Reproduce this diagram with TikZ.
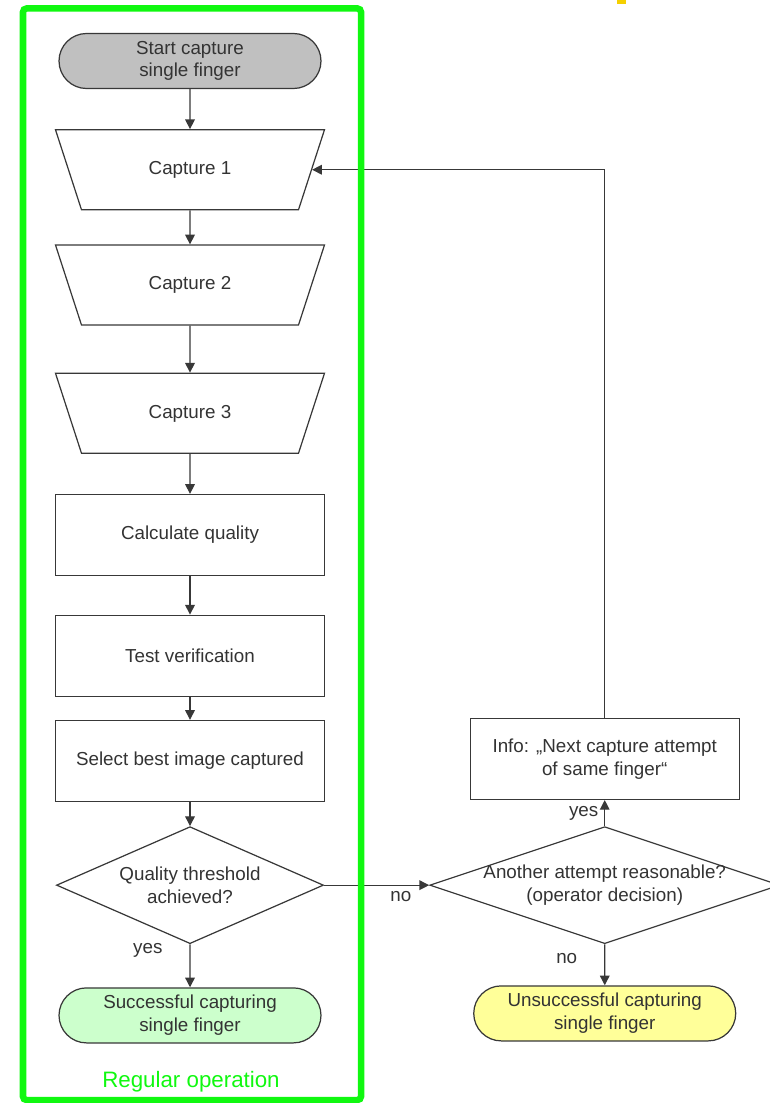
\documentclass[tikz,border=0pt]{standalone}
\usepackage{fontspec}
\setmainfont{Liberation Sans}
\usepackage{tikz}
\usetikzlibrary{shapes.geometric}
\usetikzlibrary{shapes.misc}
\usetikzlibrary{arrows.meta}
\usetikzlibrary{positioning}

\definecolor{linegray}{HTML}{383838}
\definecolor{textgray}{HTML}{333333}
\definecolor{startgray}{HTML}{C0C0C0}
\definecolor{okgreen}{HTML}{CCFFCC}
\definecolor{failyellow}{HTML}{FFFF99}
\definecolor{framegreen}{HTML}{10F810}
\definecolor{markyellow}{HTML}{F5D000}

\newcommand{\chartfont}{\fontsize{10.7pt}{12.9pt}\selectfont}

\tikzset{
  every node/.style={font=\chartfont, text=textgray},
  base/.style={draw=linegray, line width=0.7pt, align=center, inner sep=2pt},
  terminal/.style={base, rounded rectangle, minimum width=5.38cm, minimum height=1.1cm},
  capture/.style={base, trapezium, trapezium stretches body=true, trapezium angle=72,
    shape border rotate=180, minimum width=5.38cm,
    text height=0.3cm, text depth=0.1cm, inner ysep=0.6cm},
  process/.style={base, rectangle, minimum width=5.38cm, minimum height=1.62cm},
  decision/.style={base, diamond, aspect=2.3, inner sep=0pt, minimum width=5.34cm, minimum height=2.34cm},
  flow/.style={draw=linegray, line width=0.7pt, -{Triangle[length=5.5pt,width=5.5pt]}},
}

\begin{document}
\begin{tikzpicture}
  \useasboundingbox (0,0) rectangle (15.38,-22.06);
  \fill[markyellow] (12.34,0) rectangle (12.52,-0.08);

  % main column
  \node[terminal, fill=startgray] (start) at (3.8,-1.22) {Start capture\\single finger};
  \node[capture] (cap1) [below=0.8cm of start] {Capture 1};
  \node[capture] (cap2) [below=0.68cm of cap1] {Capture 2};
  \node[capture] (cap3) [below=0.94cm of cap2] {Capture 3};
  \node[process] (calc) [below=0.8cm of cap3] {Calculate quality};
  \node[process] (test) [below=0.77cm of calc] {Test verification};
  \node[process] (select) [below=0.46cm of test] {Select best image captured};
  \node[decision] (qual) [below=0.48cm of select] {Quality threshold\\achieved?};
  \node[terminal, fill=okgreen] (done) [below=0.86cm of qual] {Successful capturing\\single finger};

  % retry branch
  \node[decision, minimum width=7cm] (retry) [right=2.1cm of qual] {};
  \node[align=center] (retrytext) at (retry) {Another attempt reasonable?\\(operator decision)};
  \node[process] (info) [above=0.52cm of retry] {Info: „Next capture attempt\\of same finger“};
  \node[terminal, fill=failyellow] (fail) [below=0.82cm of retry] {Unsuccessful capturing\\single finger};

  \draw[flow] (start) -- (cap1);
  \draw[flow] (cap1) -- (cap2);
  \draw[flow] (cap2) -- (cap3);
  \draw[flow] (cap3) -- (calc);
  \draw[flow] (calc) -- (test);
  \draw[flow] (test) -- (select);
  \draw[flow] (select) -- (qual);
  \draw[flow] (qual) -- node[pos=0.14, left=12pt] {yes} (done);
  \draw[flow] (qual) -- node[pos=0.73, below] {no} (retry);
  \draw[flow] (retry) -- node[midway, left=0pt] {yes} (info);
  \draw[flow] (retry) -- node[pos=0.34, left=12pt] {no} (fail);
  \draw[flow] (info.north) |- (cap1.east);

  % frame
  \draw[framegreen, line width=3.7pt, rounded corners=2pt] (0.46,-0.17) rectangle (7.22,-22.0);
  \node[text=framegreen, font=\fontsize{12.7pt}{15pt}\selectfont] (regular) at (3.82,-21.64) {Regular operation};
\end{tikzpicture}
\end{document}
